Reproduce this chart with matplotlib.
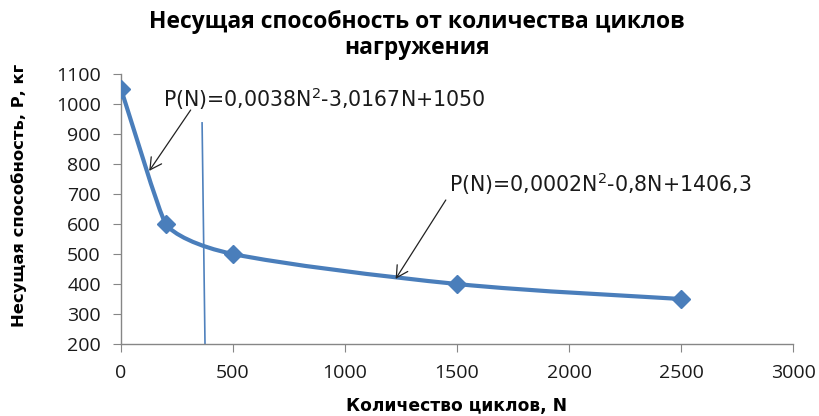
import matplotlib
matplotlib.use("Agg")
import matplotlib.pyplot as plt
from matplotlib.path import Path
from matplotlib.patches import PathPatch
import numpy as np

# Data
cycles = [0, 200, 500, 1500, 2500]
capacity = [1050, 600, 500, 400, 350]
vline_x = [362, 375]
vline_y = [937, 200]
eq1 = "P(N)=0,0038N$^{2}$-3,0167N+1050"
eq2 = "P(N)=0,0002N$^{2}$-0,8N+1406,3"
title1 = "Несущая способность от количества циклов"
title2 = "нагружения"
xlabel = "Количество циклов, N"
ylabel = "Несущая способность, Р, кг"

# style: smoothing strength per point (Excel-like look)
smooth = [1.0, 0.35, 1.0, 1.0, 1.0]
color = "#4A7EBB"

fig = plt.figure(figsize=(8.19, 4.16), dpi=100)
ax = fig.add_axes([121/819, 1-344/416, (793-121)/819, (344-74)/416])
ax.set_xlim(0, 3000)
ax.set_ylim(200, 1100)

# smoothed line computed in display space, drawn back in data space
disp = ax.transData.transform(np.column_stack([cycles, capacity]).astype(float))
n = len(disp)
verts = [tuple(disp[0])]
codes = [Path.MOVETO]
for i in range(n - 1):
    p0 = disp[i - 1] if i > 0 else disp[i]
    p1 = disp[i]
    p2 = disp[i + 1]
    p3 = disp[i + 2] if i + 2 < n else disp[i + 1]
    d12 = np.linalg.norm(p2 - p1)
    h1 = (p2 - p0) / 6.0 * smooth[i]
    h2 = (p3 - p1) / 6.0 * smooth[i + 1]
    if np.linalg.norm(h1) > d12 / 2:
        h1 = h1 / np.linalg.norm(h1) * d12 / 2
    if np.linalg.norm(h2) > d12 / 2:
        h2 = h2 / np.linalg.norm(h2) * d12 / 2
    verts += [tuple(p1 + h1), tuple(p2 - h2), tuple(p2)]
    codes += [Path.CURVE4] * 3
verts = ax.transData.inverted().transform(np.array(verts))
ax.add_patch(PathPatch(Path(verts, codes), facecolor="none", edgecolor=color,
                       lw=3.0, capstyle="round", joinstyle="round", zorder=3))
ax.plot(cycles, capacity, linestyle="none", marker="D", ms=9.5, color=color, zorder=4)

ax.plot(vline_x, vline_y, color="#4F81BD", lw=1.2, zorder=2)

ax.set_xticks(range(0, 3001, 500))
ax.set_yticks(range(200, 1101, 100))
for s in ["top", "right"]:
    ax.spines[s].set_visible(False)
for s in ["left", "bottom"]:
    ax.spines[s].set_color("#868686")
    ax.spines[s].set_linewidth(1.0)
ax.tick_params(direction="out", length=5.5, color="#868686", labelsize=14,
               labelcolor="#1a1a1a", pad=9)
for lab in ax.get_xticklabels() + ax.get_yticklabels():
    lab.set_family("Open Sans")

arrow = dict(arrowstyle="->,head_length=0.55,head_width=0.3", color="#222222",
             lw=0.9, shrinkA=0, shrinkB=0, mutation_scale=15)
ax.annotate("", xy=(126, 777), xytext=(311, 980), arrowprops=arrow)
ax.annotate("", xy=(1226, 417), xytext=(1450, 680), arrowprops=arrow)
ax.text(189, 990, eq1, fontsize=14.8, ha="left", va="baseline",
        family="DejaVu Sans", color="#1a1a1a")
ax.text(1464, 706, eq2, fontsize=14.8, ha="left", va="baseline",
        family="DejaVu Sans", color="#1a1a1a")

fig.text(417/819, 1-22/416, title1, ha="center", va="center", fontsize=16.5,
         fontweight="bold", family="Open Sans")
fig.text(417/819, 1-48/416, title2, ha="center", va="center", fontsize=16.5,
         fontweight="bold", family="Open Sans")
fig.text(457/819, 1-406/416, xlabel, ha="center", va="center", fontsize=12.3,
         fontweight="bold", family="DejaVu Sans")
fig.text(19/819, 1-195/416, ylabel, ha="center", va="center", fontsize=11.8,
         fontweight="bold", family="DejaVu Sans", rotation=90)

fig.savefig("out.png", dpi=100)
